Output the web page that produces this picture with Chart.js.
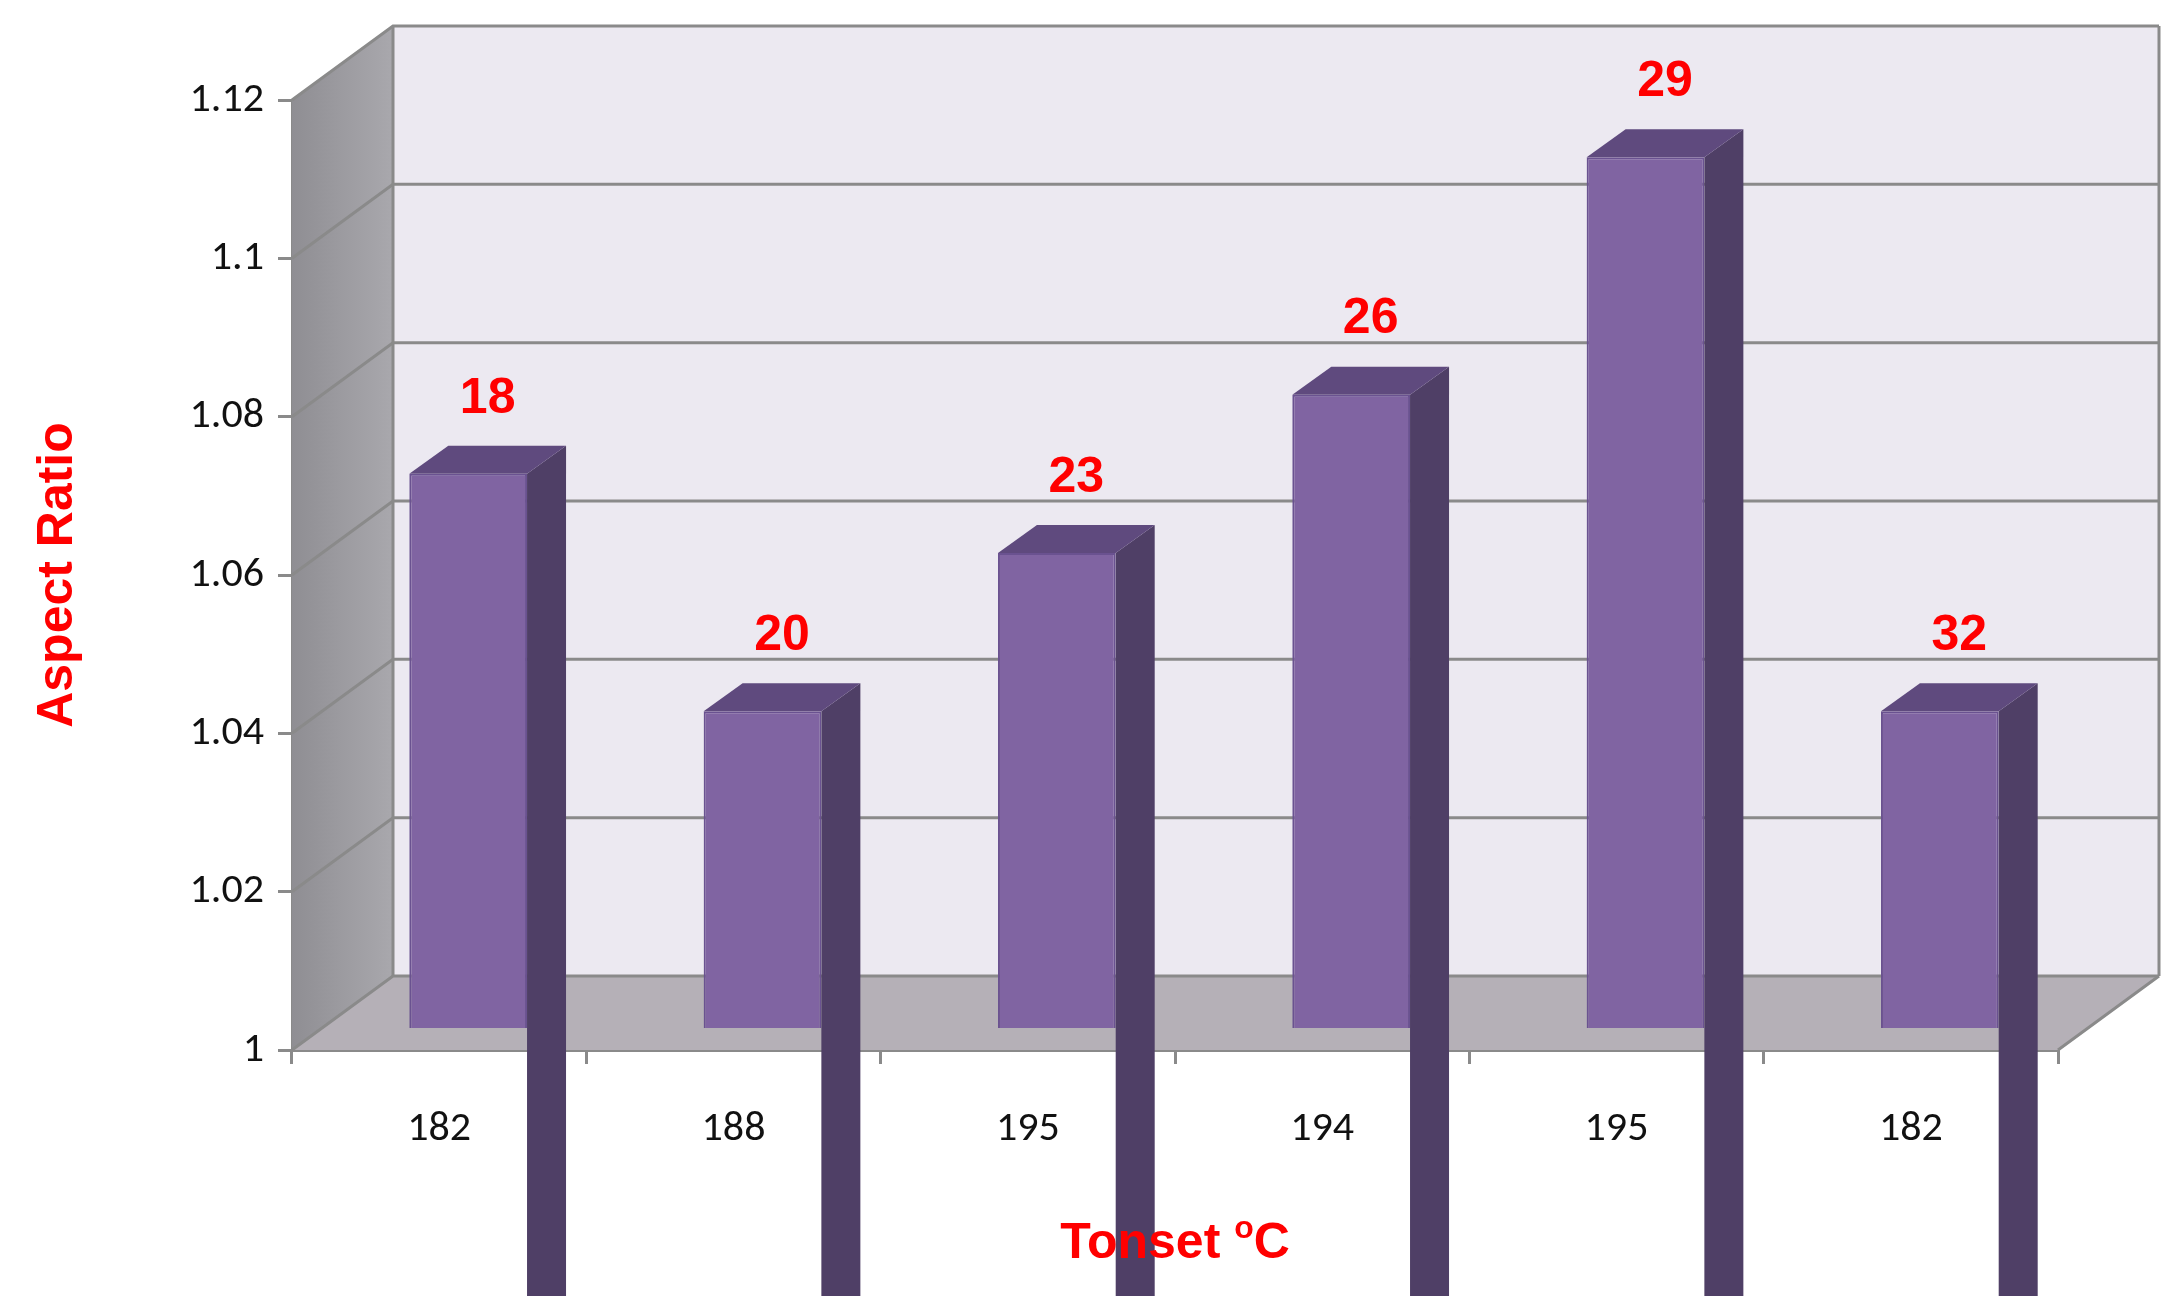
<!DOCTYPE html>
<html lang="en">
<head>
<meta charset="UTF-8">
<title>Aspect Ratio vs Tonset</title>
<script src="https://cdn.jsdelivr.net/npm/chart.js@4.4.1/dist/chart.umd.js"></script>
<style>
  html, body { margin: 0; padding: 0; background: #fff; }
  #wrap { width: 2179px; height: 1296px; }
</style>
</head>
<body>
<div id="wrap"><canvas id="c" width="2179" height="1296"></canvas></div>
<script>
const categories = ['182', '188', '195', '194', '195', '182'];
const aspectRatio = [1.07, 1.04, 1.06, 1.08, 1.11, 1.04];
const barLabels = ['18', '20', '23', '26', '29', '32'];
const yTicks = [1, 1.02, 1.04, 1.06, 1.08, 1.1, 1.12];

// 3d geometry
const DX = 101, DY = 74;        // full depth of the box
const FX = 29, FY = 22;         // bar front face offset
const SX = 39, SY = 28;         // bar depth

const walls = {
  id: 'walls',
  beforeDatasetsDraw(chart) {
    const { ctx, chartArea: a, scales: { y } } = chart;
    ctx.save();
    // left wall
    let g = ctx.createLinearGradient(a.left, 0, a.left + DX, 0);
    g.addColorStop(0, '#8f8e93'); g.addColorStop(1, '#a9a8ad');
    ctx.fillStyle = g;
    ctx.beginPath();
    ctx.moveTo(a.left, a.bottom); ctx.lineTo(a.left, a.top);
    ctx.lineTo(a.left + DX, a.top - DY); ctx.lineTo(a.left + DX, a.bottom - DY);
    ctx.closePath(); ctx.fill();
    // back wall
    ctx.fillStyle = '#ece9f1';
    ctx.fillRect(a.left + DX, a.top - DY, a.right - a.left, a.bottom - a.top);
    // floor
    ctx.fillStyle = '#b5b0b7';
    ctx.beginPath();
    ctx.moveTo(a.left, a.bottom); ctx.lineTo(a.right, a.bottom);
    ctx.lineTo(a.right + DX, a.bottom - DY); ctx.lineTo(a.left + DX, a.bottom - DY);
    ctx.closePath(); ctx.fill();
    // grid lines
    ctx.strokeStyle = '#8a8a8a'; ctx.lineWidth = 3;
    yTicks.forEach(v => {
      const py = y.getPixelForValue(v);
      ctx.beginPath();
      ctx.moveTo(a.left, py);
      ctx.lineTo(a.left + DX, py - DY);
      ctx.lineTo(a.right + DX, py - DY);
      ctx.stroke();
    });
    ctx.beginPath();
    ctx.moveTo(a.right, a.bottom); ctx.lineTo(a.right + DX, a.bottom - DY);
    ctx.moveTo(a.left + DX, a.top - DY); ctx.lineTo(a.left + DX, a.bottom - DY);
    ctx.moveTo(a.right + DX, a.top - DY); ctx.lineTo(a.right + DX, a.bottom - DY);
    ctx.stroke();
    ctx.restore();
    // shift bars to mid depth
    ctx.save();
    ctx.translate(FX, -FY);
  },
  afterDatasetsDraw(chart) {
    const { ctx } = chart;
    const meta = chart.getDatasetMeta(0);
    meta.data.forEach((bar, i) => {
      const l = bar.x - bar.width / 2, r = bar.x + bar.width / 2;
      const t = bar.y, b = bar.base;
      ctx.fillStyle = '#4f3f66';
      ctx.beginPath();
      ctx.moveTo(r, b); ctx.lineTo(r, t); ctx.lineTo(r + SX, t - SY); ctx.lineTo(r + SX, b - SY);
      ctx.closePath(); ctx.fill();
      ctx.fillStyle = '#5f4a7e';
      ctx.beginPath();
      ctx.moveTo(l, t); ctx.lineTo(r, t); ctx.lineTo(r + SX, t - SY); ctx.lineTo(l + SX, t - SY);
      ctx.closePath(); ctx.fill();
      ctx.fillStyle = '#ff0000';
      ctx.font = 'bold 50px "Liberation Sans", Arial, sans-serif';
      ctx.textAlign = 'center'; ctx.textBaseline = 'bottom';
      ctx.fillText(barLabels[i], bar.x + SX / 2, t - SY - 22);
    });
    ctx.restore();
  },
  afterDraw(chart) {
    const { ctx, chartArea: a } = chart;
    ctx.save();
    ctx.fillStyle = '#ff0000';
    ctx.font = 'bold 50px "Liberation Sans", Arial, sans-serif';
    ctx.textBaseline = 'alphabetic';
    const main = 'Tonset ', sup = 'o', unit = 'C';
    const w1 = ctx.measureText(main).width, w3 = ctx.measureText(unit).width;
    ctx.font = 'bold 32px "Liberation Sans", Arial, sans-serif';
    const w2 = ctx.measureText(sup).width;
    let x = (a.left + a.right) / 2 - (w1 + w2 + w3) / 2;
    const by = 1258;
    ctx.font = 'bold 50px "Liberation Sans", Arial, sans-serif';
    ctx.textAlign = 'left';
    ctx.fillText(main, x, by); x += w1;
    ctx.font = 'bold 32px "Liberation Sans", Arial, sans-serif';
    ctx.fillText(sup, x, by - 20); x += w2;
    ctx.font = 'bold 50px "Liberation Sans", Arial, sans-serif';
    ctx.fillText(unit, x, by);
    ctx.translate(58, 575);
    ctx.rotate(-Math.PI / 2);
    ctx.textAlign = 'center'; ctx.textBaseline = 'middle';
    ctx.fillText('Aspect Ratio', 0, 0);
    ctx.restore();
  }
};

new Chart(document.getElementById('c'), {
  type: 'bar',
  data: {
    labels: categories,
    datasets: [{
      data: aspectRatio,
      backgroundColor: '#8064a2',
      borderColor: '#6a5290',
      borderWidth: 2,
      barPercentage: 0.4,
      categoryPercentage: 1
    }]
  },
  options: {
    responsive: false,
    animation: false,
    layout: { padding: { left: 0, right: 121, top: 100, bottom: 0 } },
    plugins: { legend: { display: false }, tooltip: { enabled: false } },
    scales: {
      y: {
        min: 1, max: 1.12,
        afterFit(s) { s.width = 292; },
        afterBuildTicks(s) { s.ticks = yTicks.map(v => ({ value: v })); },
        ticks: {
          color: '#111', padding: 14,
          font: { size: 42, family: 'Calibri, Carlito, "Liberation Sans", sans-serif' },
          callback: v => String(Math.round(v * 100) / 100)
        },
        grid: { drawOnChartArea: false, tickLength: 14, color: '#8a8a8a', lineWidth: 3 },
        border: { color: '#8a8a8a', width: 3 }
      },
      x: {
        afterFit(s) { s.height = 246; },
        ticks: {
          color: '#111', padding: 40,
          font: { size: 42, family: 'Calibri, Carlito, "Liberation Sans", sans-serif' }
        },
        grid: { offset: true, drawOnChartArea: false, tickLength: 14, color: '#8a8a8a', lineWidth: 3 },
        border: { color: '#8a8a8a', width: 3 }
      }
    }
  },
  plugins: [walls]
});
</script>
</body>
</html>
